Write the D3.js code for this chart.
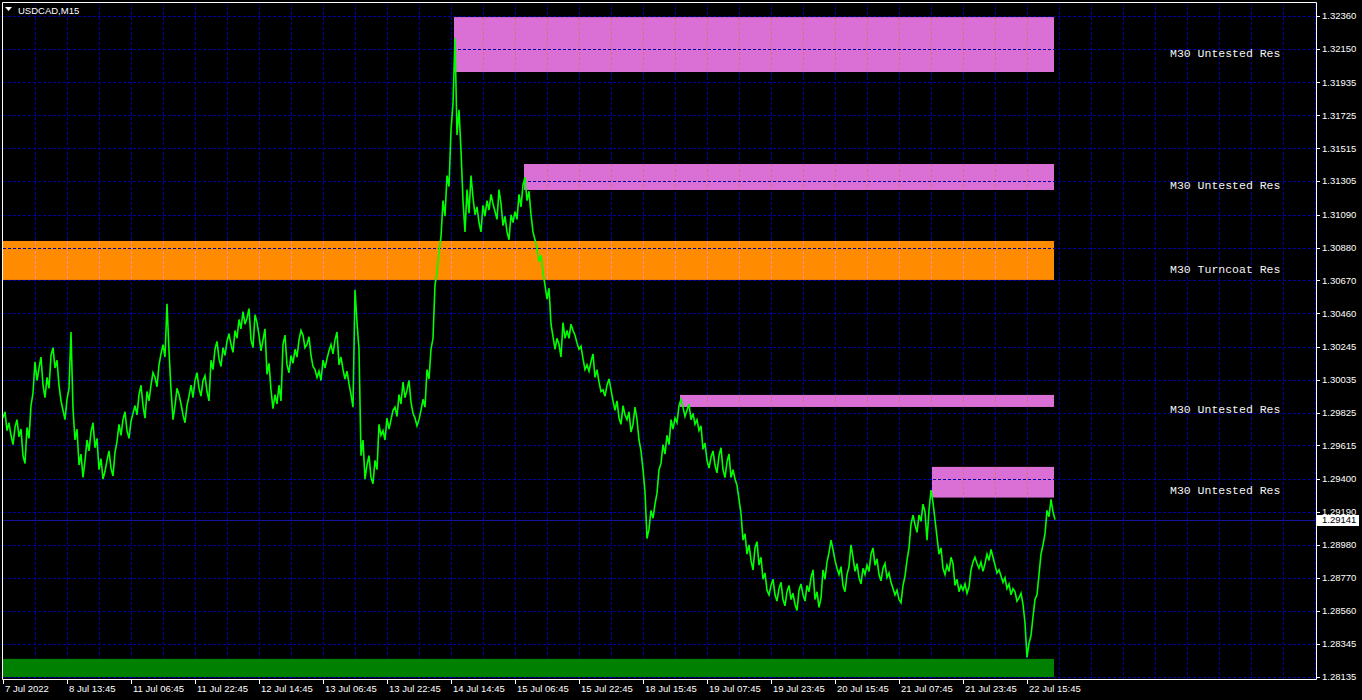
<!DOCTYPE html>
<html>
<head>
<meta charset="utf-8">
<script src="https://cdn.jsdelivr.net/npm/d3@7"></script>
<style>
body { margin: 0; background: #000; overflow: hidden; }
</style>
</head>
<body>
<div id="wrapper"></div>
<script>
// USDCAD M15 line chart with supply / demand zones
const symbolName = "USDCAD,M15";
const barStep = 2; // one close kept every 2 bars (1 bar = 1 px on the chart)

const closes = [
	1.2979,1.2983, 1.2971,1.2976, 1.2968,1.2962, 1.2973,1.2978, 1.2967,1.2972, 1.2955,1.2950, 1.2973,1.2966, 1.2987,1.2995, 1.3015,1.3003, 1.3011,1.3018, 1.3000,1.2992, 1.3005,1.2998,
	1.3019,1.3024, 1.3011,1.3016, 1.3000,1.2990, 1.2984,1.2978, 1.2991,1.2998, 1.3034,1.2985, 1.2965,1.2972, 1.2949,1.2956, 1.2941,1.2952, 1.2965,1.2958, 1.2970,1.2976, 1.2960,1.2966,
	1.2946,1.2953, 1.2940,1.2945, 1.2952,1.2958, 1.2947,1.2942, 1.2957,1.2964, 1.2975,1.2968, 1.2978,1.2983, 1.2971,1.2966, 1.2977,1.2982, 1.2987,1.2981, 1.2994,1.3000, 1.2987,1.2979,
	1.2996,1.2990, 1.3000,1.3008, 1.3005,1.2999, 1.3013,1.3020, 1.3026,1.3018, 1.3052,1.3022, 1.2997,1.2978, 1.2987,1.2998, 1.2994,1.2988, 1.2981,1.2976, 1.2987,1.2993, 1.3000,1.2992,
	1.3003,1.3008, 1.2998,1.2993, 1.3003,1.3006, 1.2996,1.2990, 1.3016,1.3010, 1.3023,1.3028, 1.3017,1.3012, 1.3024,1.3019, 1.3028,1.3033, 1.3026,1.3021, 1.3035,1.3030, 1.3042,1.3036,
	1.3047,1.3039, 1.3043,1.3049, 1.3029,1.3024, 1.3045,1.3040, 1.3032,1.3022, 1.3029,1.3036, 1.3007,1.3014, 1.2997,1.2985, 1.2994,1.2988, 1.3000,1.2990, 1.3026,1.3032, 1.3013,1.3008,
	1.3019,1.3014, 1.3023,1.3018, 1.3029,1.3035, 1.3032,1.3024, 1.3026,1.3031, 1.3019,1.3012, 1.3010,1.3005, 1.3009,1.3003, 1.3016,1.3011, 1.3017,1.3022, 1.3026,1.3020, 1.3029,1.3034,
	1.3013,1.3018, 1.3010,1.3004, 1.3009,1.3001, 1.2994,1.2986, 1.3061,1.3040, 1.3023,1.2955, 1.2965,1.2940, 1.2949,1.2955, 1.2941,1.2937, 1.2952,1.2946, 1.2975,1.2968, 1.2971,1.2965,
	1.2979,1.2972, 1.2978,1.2984, 1.2986,1.2980, 1.2994,1.2988, 1.3002,1.2992, 1.2997,1.3003, 1.2989,1.2982, 1.2979,1.2974, 1.2978,1.2984, 1.2991,1.2986, 1.3010,1.3004, 1.3023,1.3030,
	1.3064,1.3072, 1.3086,1.3095, 1.3118,1.3108, 1.3134,1.3127, 1.3163,1.3180, 1.3222,1.3160, 1.3176,1.3150, 1.3118,1.3098, 1.3125,1.3110, 1.3134,1.3120, 1.3109,1.3114, 1.3104,1.3098,
	1.3115,1.3108, 1.3118,1.3112, 1.3122,1.3116, 1.3111,1.3106, 1.3125,1.3116, 1.3102,1.3108, 1.3098,1.3093, 1.3109,1.3104, 1.3111,1.3106, 1.3122,1.3114, 1.3128,1.3133, 1.3118,1.3124,
	1.3109,1.3098, 1.3093,1.3087, 1.3079,1.3083, 1.3072,1.3064, 1.3055,1.3062, 1.3039,1.3031, 1.3023,1.3030, 1.3026,1.3018, 1.3040,1.3030, 1.3035,1.3030, 1.3039,1.3035, 1.3032,1.3027,
	1.3023,1.3025, 1.3017,1.3010, 1.3013,1.3009, 1.3015,1.3020, 1.3005,1.3010, 1.3002,1.2996, 1.2997,1.2993, 1.3000,1.3004, 1.2997,1.2990, 1.2984,1.2990, 1.2979,1.2975, 1.2987,1.2981,
	1.2978,1.2983, 1.2970,1.2975, 1.2986,1.2978, 1.2965,1.2958, 1.2946,1.2932, 1.2902,1.2908, 1.2920,1.2915, 1.2924,1.2931, 1.2946,1.2950, 1.2962,1.2956, 1.2968,1.2962, 1.2978,1.2972,
	1.2979,1.2976, 1.2987,1.2991, 1.2986,1.2980, 1.2984,1.2988, 1.2978,1.2982, 1.2975,1.2978, 1.2971,1.2974, 1.2959,1.2963, 1.2952,1.2947, 1.2954,1.2958, 1.2949,1.2944, 1.2955,1.2960,
	1.2946,1.2941, 1.2951,1.2956, 1.2941,1.2946, 1.2940,1.2936, 1.2927,1.2918, 1.2901,1.2905, 1.2892,1.2898, 1.2888,1.2882, 1.2896,1.2900, 1.2885,1.2890, 1.2876,1.2880, 1.2869,1.2866,
	1.2872,1.2876, 1.2866,1.2862, 1.2870,1.2874, 1.2863,1.2859, 1.2868,1.2872, 1.2863,1.2867, 1.2860,1.2856, 1.2869,1.2873, 1.2866,1.2862, 1.2872,1.2868, 1.2877,1.2882, 1.2863,1.2868,
	1.2858,1.2864, 1.2882,1.2876, 1.2887,1.2893, 1.2901,1.2895, 1.2888,1.2883, 1.2879,1.2884, 1.2872,1.2868, 1.2879,1.2884, 1.2898,1.2890, 1.2881,1.2886, 1.2877,1.2873, 1.2883,1.2879,
	1.2885,1.2881, 1.2892,1.2896, 1.2885,1.2889, 1.2879,1.2875, 1.2883,1.2886, 1.2877,1.2880, 1.2874,1.2870, 1.2866,1.2869, 1.2863,1.2861, 1.2872,1.2878, 1.2888,1.2896, 1.2911,1.2917,
	1.2911,1.2906, 1.2917,1.2913, 1.2924,1.2919, 1.2901,1.2920, 1.2933,1.2925, 1.2914,1.2903, 1.2892,1.2896, 1.2883,1.2879, 1.2885,1.2881, 1.2890,1.2886, 1.2872,1.2876, 1.2868,1.2872,
	1.2869,1.2873, 1.2867,1.2871, 1.2882,1.2887, 1.2890,1.2886, 1.2883,1.2887, 1.2881,1.2886, 1.2892,1.2888, 1.2895,1.2890, 1.2885,1.2880, 1.2882,1.2878, 1.2874,1.2877, 1.2870,1.2873,
	1.2866,1.2870, 1.2868,1.2862, 1.2864,1.2867, 1.2860,1.2848, 1.2826,1.2835, 1.2840,1.2852, 1.2863,1.2866, 1.2879,1.2892, 1.2898,1.2905, 1.2920,1.2916, 1.2927,1.2919, 1.29141
];
const lastPrice = 1.29141;

// price scale labels (bottom to top)
const priceTicks = [
	1.28135, 1.28345, 1.28560, 1.28770, 1.28980, 1.29190, 1.29400, 1.29615, 1.29825, 1.30035, 1.30245,
	1.30460, 1.30670, 1.30880, 1.31090, 1.31305, 1.31515, 1.31725, 1.31935, 1.32150, 1.32360
];

// time scale labels, one every 64 bars
const timeLabels = [
	"7 Jul 2022", "8 Jul 13:45", "11 Jul 06:45", "11 Jul 22:45", "12 Jul 14:45", "13 Jul 06:45",
	"13 Jul 22:45", "14 Jul 14:45", "15 Jul 06:45", "15 Jul 22:45", "18 Jul 15:45", "19 Jul 07:45",
	"19 Jul 23:45", "20 Jul 15:45", "21 Jul 07:45", "21 Jul 23:45", "22 Jul 15:45"
];

// zones
const zoneNames   = ["M30 Untested Res", "M30 Untested Res", "M30 Turncoat Res", "M30 Untested Res", "M30 Untested Res", ""];
const zoneTops    = [1.32353, 1.31414, 1.30922, 1.29938, 1.29478, 1.28251];
const zoneBottoms = [1.32002, 1.31248, 1.30673, 1.29861, 1.29282, 1.28135];
const zoneStarts  = [451, 521, 0, 677, 929, 0]; // bar index where the zone begins
const zoneColors  = ["#da70d6", "#da70d6", "#ff8c00", "#da70d6", "#da70d6", "#008000"];
// colour the dotted grid takes when it crosses each box (none on the green one)
const zoneGridColors = ["#da7076", "#da7076", "#ff8ca0", "#da7076", "#da7076", ""];
const zoneEnd = 1051;

function drawChart() {
	const width = 1362;
	const height = 700;
	const left = 3, right = 1316, top = 2, bottom = 679;
	const gridColor = "#0000a0";

	const svg = d3.select("#wrapper")
		.append("svg")
		.attr("width", width)
		.attr("height", height)
		.style("display", "block");

	svg.append("rect")
		.attr("width", width)
		.attr("height", height)
		.attr("fill", "#000");

	// 1 px per bar
	const xScale = d3.scaleLinear()
		.domain([0, right - left])
		.range([left, right]);

	const yScale = d3.scaleLinear()
		.domain([d3.min(priceTicks), d3.max(priceTicks)])
		.range([677, 16]);

	const zones = zoneNames.map(function(name, i) {
		return { name: name, top: zoneTops[i], bottom: zoneBottoms[i], start: zoneStarts[i], color: zoneColors[i], gridColor: zoneGridColors[i] };
	});

	// vertical grid, every 32 bars
	const vGrid = d3.range(32, right - left + 1, 32);
	svg.selectAll(".vgrid")
		.data(vGrid)
		.enter().append("line")
		.attr("x1", function(d) { return xScale(d) + 0.5; })
		.attr("x2", function(d) { return xScale(d) + 0.5; })
		.attr("y1", top)
		.attr("y2", bottom)
		.attr("stroke", gridColor)
		.attr("stroke-dasharray", "3,2");

	// boxes
	const zoneG = svg.selectAll(".zone")
		.data(zones)
		.enter().append("g")
		.attr("class", "zone");

	zoneG.append("rect")
		.attr("x", function(d) { return xScale(d.start); })
		.attr("y", function(d) { return yScale(d.top); })
		.attr("width", function(d) { return xScale(zoneEnd) - xScale(d.start); })
		.attr("height", function(d) { return yScale(d.bottom) - yScale(d.top); })
		.attr("fill", function(d) { return d.color; });

	// the vertical grid shows through the pink / orange boxes in a lighter tint
	zoneG.filter(function(d) { return d.gridColor !== ""; })
		.selectAll("line")
		.data(function(d) {
			return vGrid.filter(function(v) { return v > d.start && v < zoneEnd; })
				.map(function(v) { return { bar: v, zone: d }; });
		})
		.enter().append("line")
		.attr("x1", function(d) { return xScale(d.bar) + 0.5; })
		.attr("x2", function(d) { return xScale(d.bar) + 0.5; })
		.attr("y1", function(d) { return yScale(d.zone.top); })
		.attr("y2", function(d) { return yScale(d.zone.bottom); })
		.attr("stroke", function(d) { return d.zone.gridColor; })
		.attr("stroke-dasharray", "3,2");

	// horizontal grid at every price label
	svg.selectAll(".hgrid")
		.data(priceTicks)
		.enter().append("line")
		.attr("x1", left)
		.attr("x2", right)
		.attr("y1", function(d) { return Math.round(yScale(d)) + 0.5; })
		.attr("y2", function(d) { return Math.round(yScale(d)) + 0.5; })
		.attr("stroke", gridColor)
		.attr("stroke-dasharray", "3,2");

	// last price line
	svg.append("line")
		.attr("x1", left)
		.attr("x2", right)
		.attr("y1", Math.round(yScale(lastPrice)) + 0.5)
		.attr("y2", Math.round(yScale(lastPrice)) + 0.5)
		.attr("stroke", "#1414a0");

	// price line
	const line = d3.line()
		.x(function(d, i) { return xScale(i * barStep); })
		.y(function(d) { return yScale(d); });

	svg.append("path")
		.datum(closes)
		.attr("d", line)
		.attr("fill", "none")
		.attr("stroke", "#00ff00")
		.attr("stroke-width", 1.6)
		.attr("stroke-linejoin", "miter");

	// zone texts, anchored at the middle of each box
	svg.selectAll(".zlabel")
		.data(zones.filter(function(z) { return z.name !== ""; }))
		.enter().append("text")
		.attr("x", xScale(1167))
		.attr("y", function(d) { return yScale((d.top + d.bottom) / 2); })
		.attr("dy", "1.05em")
		.attr("fill", "#f4f4f4")
		.style("font-family", "'Liberation Mono', 'DejaVu Sans Mono', monospace")
		.style("font-size", "11.5px")
		.text(function(d) { return d.name; });

	// frame
	svg.append("path")
		.attr("d", "M" + (left - 0.5) + "," + (top + 0.5) + "H" + (right + 0.5) + "V" + (bottom + 0.5) + "H" + (left - 0.5) + "Z")
		.attr("fill", "none")
		.attr("stroke", "#fff");

	// price axis
	const yAxis = svg.append("g");
	yAxis.selectAll("line")
		.data(priceTicks)
		.enter().append("line")
		.attr("x1", right)
		.attr("x2", right + 4)
		.attr("y1", function(d) { return Math.round(yScale(d)) + 0.5; })
		.attr("y2", function(d) { return Math.round(yScale(d)) + 0.5; })
		.attr("stroke", "#fff");
	yAxis.selectAll("text")
		.data(priceTicks)
		.enter().append("text")
		.attr("x", right + 6)
		.attr("y", function(d) { return yScale(d); })
		.attr("dy", "0.35em")
		.attr("fill", "#fff")
		.style("font-family", "'Liberation Sans', Arial, sans-serif")
		.style("font-size", "9.5px")
		.text(function(d) { return d3.format(".5f")(d); });

	// last price tag (covers the lower half of the 1.29190 label, as on the terminal)
	svg.append("rect")
		.attr("x", right + 1)
		.attr("y", Math.round(yScale(lastPrice)) - 5)
		.attr("width", 42)
		.attr("height", 11)
		.attr("fill", "#fff");
	svg.append("text")
		.attr("x", right + 6)
		.attr("y", yScale(lastPrice) + 0.5)
		.attr("dy", "0.35em")
		.attr("fill", "#000")
		.style("font-family", "'Liberation Sans', Arial, sans-serif")
		.style("font-size", "9.5px")
		.text(d3.format(".5f")(lastPrice));

	// time axis
	const xAxis = svg.append("g");
	xAxis.selectAll("line")
		.data(timeLabels)
		.enter().append("line")
		.attr("x1", function(d, i) { return xScale(i * 64) + 0.5; })
		.attr("x2", function(d, i) { return xScale(i * 64) + 0.5; })
		.attr("y1", bottom)
		.attr("y2", bottom + 5)
		.attr("stroke", "#fff");
	xAxis.selectAll("text")
		.data(timeLabels)
		.enter().append("text")
		.attr("x", function(d, i) { return xScale(i * 64) + 2; })
		.attr("y", 692)
		.attr("fill", "#fff")
		.style("font-family", "'Liberation Sans', Arial, sans-serif")
		.style("font-size", "9.5px")
		.text(function(d) { return d; });

	// symbol caption
	svg.append("path")
		.attr("d", "M5,7H12L8.5,11Z")
		.attr("fill", "#fff");
	svg.append("text")
		.attr("x", 18)
		.attr("y", 14)
		.attr("fill", "#fff")
		.style("font-family", "'Liberation Sans', Arial, sans-serif")
		.style("font-size", "9.5px")
		.text(symbolName);
}
drawChart();
</script>
</body>
</html>
